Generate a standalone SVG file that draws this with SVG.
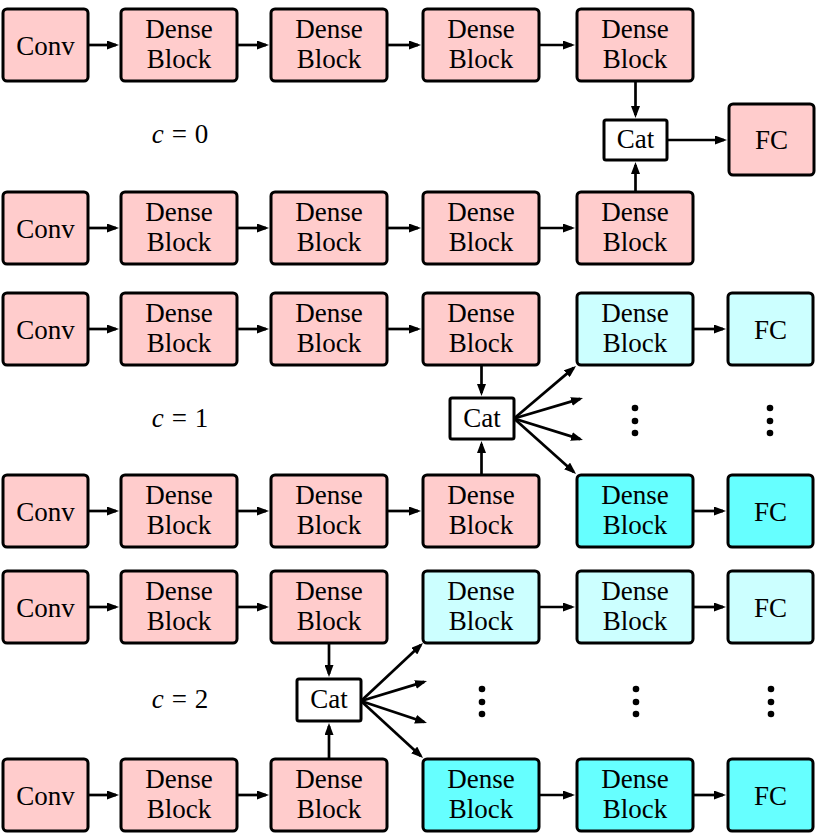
<svg xmlns="http://www.w3.org/2000/svg" width="829" height="840" viewBox="0 0 829 840">
<defs>
<marker id="ah" viewBox="0 0 12 9" markerWidth="12" markerHeight="9" refX="9" refY="4.5" orient="auto" markerUnits="userSpaceOnUse">
<path d="M0,0 L12,4.5 L0,9 z" fill="#000"/>
</marker>
</defs>
<style>
.nd rect{stroke:#000;stroke-width:3}
.pk{fill:#FFCCCC}
.lc{fill:#CCFFFF}
.cy{fill:#66FFFF}
.ct{fill:#FFFFFF}
text{font-family:"Liberation Serif","DejaVu Serif",serif;font-size:27px;text-anchor:middle;fill:#000}
#connectors line{stroke:#000;stroke-width:2.7;marker-end:url(#ah)}
.dot{fill:#000}
</style>
<rect x="0" y="0" width="829" height="840" fill="#fff"/>

<!-- c = 0 -->
<g id="c0-r1-conv" class="nd"><rect class="pk" x="3" y="9" width="85" height="72" rx="4"/><text x="45.5" y="55">Conv</text></g>
<g id="c0-r1-d1" class="nd"><rect class="pk" x="121" y="9" width="116" height="72" rx="4"/><text x="179" y="38">Dense</text><text x="179" y="68">Block</text></g>
<g id="c0-r1-d2" class="nd"><rect class="pk" x="271" y="9" width="116" height="72" rx="4"/><text x="329" y="38">Dense</text><text x="329" y="68">Block</text></g>
<g id="c0-r1-d3" class="nd"><rect class="pk" x="423" y="9" width="116" height="72" rx="4"/><text x="481" y="38">Dense</text><text x="481" y="68">Block</text></g>
<g id="c0-r1-d4" class="nd"><rect class="pk" x="577" y="9" width="116" height="72" rx="4"/><text x="635" y="38">Dense</text><text x="635" y="68">Block</text></g>
<g id="c0-cat" class="nd"><rect class="ct" x="604" y="120" width="63" height="40" rx="2"/><text x="635.5" y="148">Cat</text></g>
<g id="c0-fc" class="nd"><rect class="pk" x="729" y="104" width="85" height="71" rx="4"/><text x="771.5" y="149">FC</text></g>
<g id="c0-r2-conv" class="nd"><rect class="pk" x="3" y="192" width="85" height="72" rx="4"/><text x="45.5" y="238">Conv</text></g>
<g id="c0-r2-d1" class="nd"><rect class="pk" x="121" y="192" width="116" height="72" rx="4"/><text x="179" y="221">Dense</text><text x="179" y="251">Block</text></g>
<g id="c0-r2-d2" class="nd"><rect class="pk" x="271" y="192" width="116" height="72" rx="4"/><text x="329" y="221">Dense</text><text x="329" y="251">Block</text></g>
<g id="c0-r2-d3" class="nd"><rect class="pk" x="423" y="192" width="116" height="72" rx="4"/><text x="481" y="221">Dense</text><text x="481" y="251">Block</text></g>
<g id="c0-r2-d4" class="nd"><rect class="pk" x="577" y="192" width="116" height="72" rx="4"/><text x="635" y="221">Dense</text><text x="635" y="251">Block</text></g>
<g id="c0-label"><text x="180" y="143"><tspan font-style="italic">c</tspan><tspan dx="8">=</tspan><tspan dx="8">0</tspan></text></g>

<!-- c = 1 -->
<g id="c1-r1-conv" class="nd"><rect class="pk" x="3" y="293" width="85" height="72" rx="4"/><text x="45.5" y="339">Conv</text></g>
<g id="c1-r1-d1" class="nd"><rect class="pk" x="121" y="293" width="116" height="72" rx="4"/><text x="179" y="322">Dense</text><text x="179" y="352">Block</text></g>
<g id="c1-r1-d2" class="nd"><rect class="pk" x="271" y="293" width="116" height="72" rx="4"/><text x="329" y="322">Dense</text><text x="329" y="352">Block</text></g>
<g id="c1-r1-d3" class="nd"><rect class="pk" x="423" y="293" width="116" height="72" rx="4"/><text x="481" y="322">Dense</text><text x="481" y="352">Block</text></g>
<g id="c1-r1-d4" class="nd"><rect class="lc" x="577" y="293" width="116" height="72" rx="4"/><text x="635" y="322">Dense</text><text x="635" y="352">Block</text></g>
<g id="c1-r1-fc" class="nd"><rect class="lc" x="728" y="293" width="85" height="72" rx="4"/><text x="770.5" y="339">FC</text></g>
<g id="c1-cat" class="nd"><rect class="ct" x="450" y="398" width="64" height="41" rx="2"/><text x="482" y="427">Cat</text></g>
<g id="c1-r2-conv" class="nd"><rect class="pk" x="3" y="475" width="85" height="72" rx="4"/><text x="45.5" y="521">Conv</text></g>
<g id="c1-r2-d1" class="nd"><rect class="pk" x="121" y="475" width="116" height="72" rx="4"/><text x="179" y="504">Dense</text><text x="179" y="534">Block</text></g>
<g id="c1-r2-d2" class="nd"><rect class="pk" x="271" y="475" width="116" height="72" rx="4"/><text x="329" y="504">Dense</text><text x="329" y="534">Block</text></g>
<g id="c1-r2-d3" class="nd"><rect class="pk" x="423" y="475" width="116" height="72" rx="4"/><text x="481" y="504">Dense</text><text x="481" y="534">Block</text></g>
<g id="c1-r2-d4" class="nd"><rect class="cy" x="577" y="475" width="116" height="72" rx="4"/><text x="635" y="504">Dense</text><text x="635" y="534">Block</text></g>
<g id="c1-r2-fc" class="nd"><rect class="cy" x="728" y="475" width="85" height="72" rx="4"/><text x="770.5" y="521">FC</text></g>
<g id="c1-label"><text x="180" y="427"><tspan font-style="italic">c</tspan><tspan dx="8">=</tspan><tspan dx="8">1</tspan></text></g>

<!-- c = 2 -->
<g id="c2-r1-conv" class="nd"><rect class="pk" x="3" y="571" width="85" height="72" rx="4"/><text x="45.5" y="617">Conv</text></g>
<g id="c2-r1-d1" class="nd"><rect class="pk" x="121" y="571" width="116" height="72" rx="4"/><text x="179" y="600">Dense</text><text x="179" y="630">Block</text></g>
<g id="c2-r1-d2" class="nd"><rect class="pk" x="271" y="571" width="116" height="72" rx="4"/><text x="329" y="600">Dense</text><text x="329" y="630">Block</text></g>
<g id="c2-r1-d3" class="nd"><rect class="lc" x="423" y="571" width="116" height="72" rx="4"/><text x="481" y="600">Dense</text><text x="481" y="630">Block</text></g>
<g id="c2-r1-d4" class="nd"><rect class="lc" x="577" y="571" width="116" height="72" rx="4"/><text x="635" y="600">Dense</text><text x="635" y="630">Block</text></g>
<g id="c2-r1-fc" class="nd"><rect class="lc" x="728" y="571" width="85" height="72" rx="4"/><text x="770.5" y="617">FC</text></g>
<g id="c2-cat" class="nd"><rect class="ct" x="297" y="679" width="64" height="42" rx="2"/><text x="329" y="708">Cat</text></g>
<g id="c2-r2-conv" class="nd"><rect class="pk" x="3" y="759" width="85" height="72" rx="4"/><text x="45.5" y="805">Conv</text></g>
<g id="c2-r2-d1" class="nd"><rect class="pk" x="121" y="759" width="116" height="72" rx="4"/><text x="179" y="788">Dense</text><text x="179" y="818">Block</text></g>
<g id="c2-r2-d2" class="nd"><rect class="pk" x="271" y="759" width="116" height="72" rx="4"/><text x="329" y="788">Dense</text><text x="329" y="818">Block</text></g>
<g id="c2-r2-d3" class="nd"><rect class="cy" x="423" y="759" width="116" height="72" rx="4"/><text x="481" y="788">Dense</text><text x="481" y="818">Block</text></g>
<g id="c2-r2-d4" class="nd"><rect class="cy" x="577" y="759" width="116" height="72" rx="4"/><text x="635" y="788">Dense</text><text x="635" y="818">Block</text></g>
<g id="c2-r2-fc" class="nd"><rect class="cy" x="728" y="759" width="85" height="72" rx="4"/><text x="770.5" y="805">FC</text></g>
<g id="c2-label"><text x="180" y="708"><tspan font-style="italic">c</tspan><tspan dx="8">=</tspan><tspan dx="8">2</tspan></text></g>

<g id="connectors">
<line x1="88" y1="45" x2="116" y2="45"/>
<line x1="237" y1="45" x2="266" y2="45"/>
<line x1="387" y1="45" x2="418" y2="45"/>
<line x1="539" y1="45" x2="572" y2="45"/>
<line x1="88" y1="228" x2="116" y2="228"/>
<line x1="237" y1="228" x2="266" y2="228"/>
<line x1="387" y1="228" x2="418" y2="228"/>
<line x1="539" y1="228" x2="572" y2="228"/>
<line x1="635.5" y1="81" x2="635.5" y2="115"/>
<line x1="635.5" y1="192" x2="635.5" y2="165"/>
<line x1="667" y1="140" x2="724" y2="140"/>
<line x1="88" y1="329" x2="116" y2="329"/>
<line x1="237" y1="329" x2="266" y2="329"/>
<line x1="387" y1="329" x2="418" y2="329"/>
<line x1="693" y1="329" x2="723" y2="329"/>
<line x1="88" y1="511" x2="116" y2="511"/>
<line x1="237" y1="511" x2="266" y2="511"/>
<line x1="387" y1="511" x2="418" y2="511"/>
<line x1="693" y1="511" x2="723" y2="511"/>
<line x1="481.5" y1="365" x2="481.5" y2="393"/>
<line x1="481.5" y1="475" x2="481.5" y2="444"/>
<line x1="514" y1="418.5" x2="573.7" y2="367.9"/>
<line x1="514" y1="418.5" x2="580.1" y2="398.9"/>
<line x1="514" y1="418.5" x2="580.1" y2="439.1"/>
<line x1="514" y1="418.5" x2="573.8" y2="472"/>
<line x1="88" y1="607" x2="116" y2="607"/>
<line x1="237" y1="607" x2="266" y2="607"/>
<line x1="539" y1="607" x2="572" y2="607"/>
<line x1="693" y1="607" x2="723" y2="607"/>
<line x1="88" y1="795" x2="116" y2="795"/>
<line x1="237" y1="795" x2="266" y2="795"/>
<line x1="539" y1="795" x2="572" y2="795"/>
<line x1="693" y1="795" x2="723" y2="795"/>
<line x1="329" y1="643" x2="329" y2="674"/>
<line x1="329" y1="759" x2="329" y2="726"/>
<line x1="361" y1="701" x2="420.8" y2="645"/>
<line x1="361" y1="701" x2="424.1" y2="681.9"/>
<line x1="361" y1="701" x2="424.1" y2="722"/>
<line x1="361" y1="701" x2="420.8" y2="756"/>
</g>

<g id="ellipses">
<circle class="dot" cx="635" cy="408" r="3.3"/><circle class="dot" cx="635" cy="421" r="3.3"/><circle class="dot" cx="635" cy="433" r="3.3"/>
<circle class="dot" cx="770" cy="408" r="3.3"/><circle class="dot" cx="770" cy="421" r="3.3"/><circle class="dot" cx="770" cy="433" r="3.3"/>
<circle class="dot" cx="482" cy="689" r="3.3"/><circle class="dot" cx="482" cy="702" r="3.3"/><circle class="dot" cx="482" cy="714" r="3.3"/>
<circle class="dot" cx="636" cy="689" r="3.3"/><circle class="dot" cx="636" cy="702" r="3.3"/><circle class="dot" cx="636" cy="714" r="3.3"/>
<circle class="dot" cx="771" cy="689" r="3.3"/><circle class="dot" cx="771" cy="702" r="3.3"/><circle class="dot" cx="771" cy="714" r="3.3"/>
</g>
</svg>
